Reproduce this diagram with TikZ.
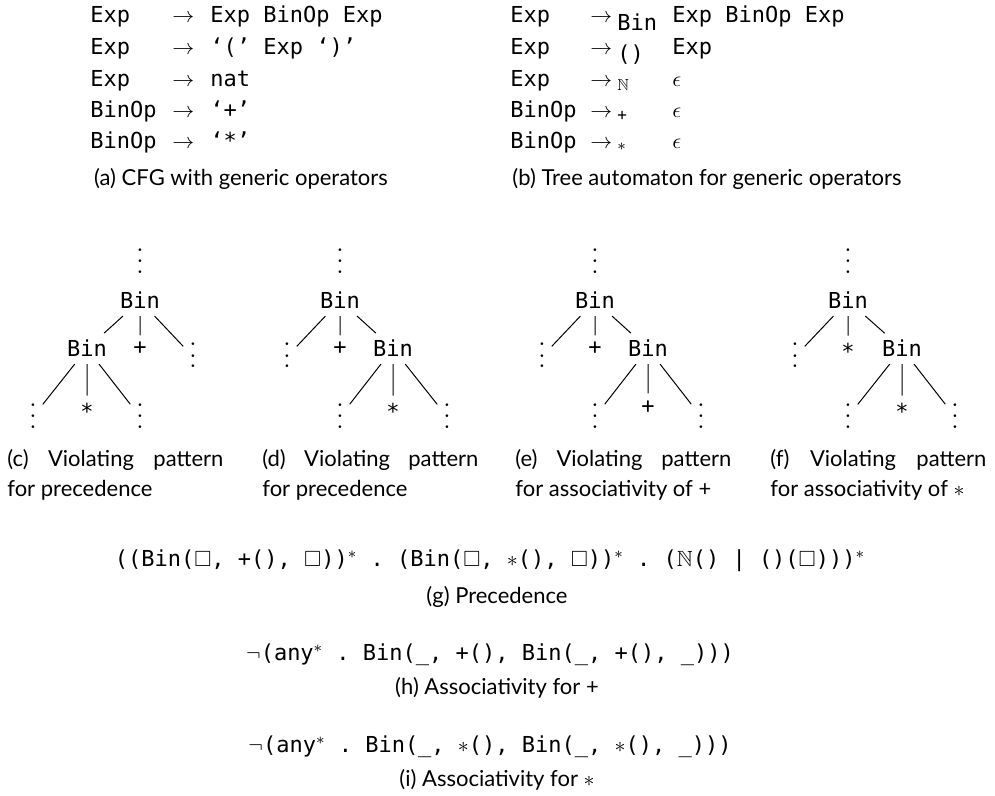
\documentclass[tikz,border=0pt]{standalone}
\usepackage{fontspec}
\usepackage{amssymb}
\setmainfont{Lato}
\setmonofont{DejaVu Sans Mono}
\newfontfamily\dejavu{DejaVu Sans}
\newcommand{\vdt}{\hbox{\dejavu\fontsize{4.5}{5}\selectfont •}}
\newcommand{\vdts}{\vbox{\baselineskip=5.5pt\lineskiplimit=-10pt\vdt\vdt\vdt}}
\begin{document}
\begin{tikzpicture}[x=0.5pt,y=-0.5pt,
  gram/.style={font=\fontsize{11}{13}\selectfont\ttfamily,anchor=base west,inner sep=0pt},
  tnode/.style={font=\fontsize{11}{13}\selectfont\ttfamily,anchor=base},
  dts/.style={font=\fontsize{11}{13}\selectfont,anchor=base},
  capt/.style={font=\fontsize{11}{15}\selectfont,anchor=base,inner sep=0pt},
  subcapt/.style={capt,anchor=base west,text width=108pt,align=justify},
  branch/.style={line width=0.5pt}]
 \useasboundingbox (0,0) rectangle (995,796);
 \node[gram] (la1) at (90,23) {Exp};
 \node[gram] (aa1) at (172,23) {$\rightarrow$};
 \node[gram] (ra1) at (210,23) {Exp BinOp Exp};
 \node[gram] (la2) at (90,55) {Exp};
 \node[gram] (aa2) at (172,55) {$\rightarrow$};
 \node[gram] (ra2) at (210,55) {‘(’ Exp ‘)’};
 \node[gram] (la3) at (90,87) {Exp};
 \node[gram] (aa3) at (172,87) {$\rightarrow$};
 \node[gram] (ra3) at (210,87) {nat};
 \node[gram] (la4) at (90,118) {BinOp};
 \node[gram] (aa4) at (172,118) {$\rightarrow$};
 \node[gram] (ra4) at (210,118) {‘+’};
 \node[gram] (la5) at (90,149) {BinOp};
 \node[gram] (aa5) at (172,149) {$\rightarrow$};
 \node[gram] (ra5) at (210,149) {‘*’};
 \node[capt] (capa) at (241,186) {(a) CFG with generic operators};

 \node[gram] (lb1) at (510,23) {Exp};
 \node[gram] (ab1) at (590,23) {$\rightarrow$};
 \node[gram] (sb1) at (617,31) {Bin};
 \node[gram] (rb1) at (672,23) {Exp BinOp Exp};
 \node[gram] (lb2) at (510,55) {Exp};
 \node[gram] (ab2) at (590,55) {$\rightarrow$};
 \node[gram] (sb2) at (617,62) {()};
 \node[gram] (rb2) at (672,55) {Exp};
 \node[gram] (lb3) at (510,87) {Exp};
 \node[gram] (ab3) at (590,87) {$\rightarrow$};
 \node[gram,font=\fontsize{8}{10}\selectfont] (sb3) at (617,91) {$\mathbb{N}$};
 \node[gram] (rb3) at (672,87) {$\epsilon$};
 \node[gram] (lb4) at (510,118) {BinOp};
 \node[gram] (ab4) at (590,118) {$\rightarrow$};
 \node[gram,font=\fontsize{8}{10}\selectfont\ttfamily] (sb4) at (617,121) {+};
 \node[gram] (rb4) at (672,118) {$\epsilon$};
 \node[gram] (lb5) at (510,149) {BinOp};
 \node[gram] (ab5) at (590,149) {$\rightarrow$};
 \node[gram,font=\fontsize{8}{10}\selectfont] (sb5) at (617,151) {$\ast$};
 \node[gram] (rb5) at (672,149) {$\epsilon$};
 \node[capt] (capb) at (707,186) {(b) Tree automaton for generic operators};

 \node[dts] (cv) at (140,276) {\vdts};
 \node[tnode] (c0) at (140,309) {Bin};
 \node[tnode] (c1) at (87,357) {Bin};
 \node[tnode] (c2) at (140,355) {+};
 \node[dts] (c3) at (193,370) {\vdts};
 \node[dts] (c11) at (33,430) {\vdts};
 \node[tnode] (c12) at (87,419) {*};
 \node[dts] (c13) at (140,430) {\vdts};
 \draw[branch] (c0) -- (c1) (c0) -- (c2) (c0) -- (c3);
 \draw[branch] (c1) -- (c11) (c1) -- (c12) (c1) -- (c13);
 \node[subcapt] (capc) at (7,466) {(c) Violating pattern\linebreak for precedence};

 \node[dts] (dv) at (340,276) {\vdts};
 \node[tnode] (d0) at (340,309) {Bin};
 \node[dts] (d1) at (287,370) {\vdts};
 \node[tnode] (d2) at (340,355) {+};
 \node[tnode] (d3) at (393,357) {Bin};
 \node[dts] (d31) at (340,430) {\vdts};
 \node[tnode] (d32) at (393,419) {*};
 \node[dts] (d33) at (447,430) {\vdts};
 \draw[branch] (d0) -- (d1) (d0) -- (d2) (d0) -- (d3);
 \draw[branch] (d3) -- (d31) (d3) -- (d32) (d3) -- (d33);
 \node[subcapt] (capd) at (262,466) {(d) Violating pattern\linebreak for precedence};

 \node[dts] (ev) at (595,276) {\vdts};
 \node[tnode] (e0) at (595,309) {Bin};
 \node[dts] (e1) at (542,370) {\vdts};
 \node[tnode] (e2) at (595,355) {+};
 \node[tnode] (e3) at (648,357) {Bin};
 \node[dts] (e31) at (595,430) {\vdts};
 \node[tnode] (e32) at (648,413) {+};
 \node[dts] (e33) at (701,430) {\vdts};
 \draw[branch] (e0) -- (e1) (e0) -- (e2) (e0) -- (e3);
 \draw[branch] (e3) -- (e31) (e3) -- (e32) (e3) -- (e33);
 \node[subcapt] (cape) at (515,466) {(e) Violating pattern\linebreak for associativity of +};

 \node[dts] (fv) at (848,276) {\vdts};
 \node[tnode] (f0) at (848,309) {Bin};
 \node[dts] (f1) at (795,370) {\vdts};
 \node[tnode] (f2) at (848,359) {*};
 \node[tnode] (f3) at (902,357) {Bin};
 \node[dts] (f31) at (848,430) {\vdts};
 \node[tnode] (f32) at (902,419) {*};
 \node[dts] (f33) at (955,430) {\vdts};
 \draw[branch] (f0) -- (f1) (f0) -- (f2) (f0) -- (f3);
 \draw[branch] (f3) -- (f31) (f3) -- (f32) (f3) -- (f33);
 \node[subcapt] (capf) at (770,466) {(f) Violating pattern\linebreak for associativity of $\ast$};

 \node[tnode] (fg) at (490,566) {((Bin($\square$, +(), $\square$))$^*$ . (Bin($\square$, $\ast$(), $\square$))$^*$ . ($\mathbb{N}$() | ()($\square$)))$^*$};
 \node[capt] (capg) at (497,603) {(g) Precedence};
 \node[tnode] (fh) at (490,660) {$\neg$(any$^*$ . Bin(\_, +(), Bin(\_, +(), \_)))};
 \node[capt] (caph) at (497,694) {(h) Associativity for +};
 \node[tnode] (fi) at (490,752) {$\neg$(any$^*$ . Bin(\_, $\ast$(), Bin(\_, $\ast$(), \_)))};
 \node[capt] (capi) at (497,786) {(i) Associativity for $\ast$};
\end{tikzpicture}
\end{document}
